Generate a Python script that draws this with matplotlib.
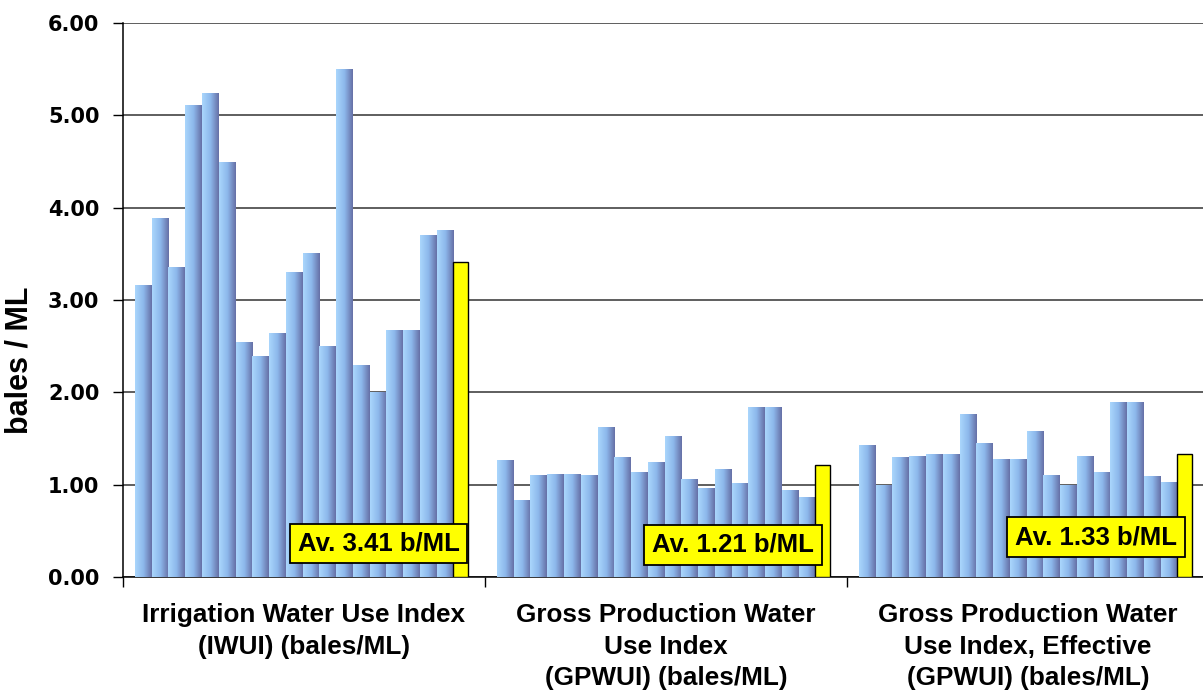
import numpy as np
import matplotlib.pyplot as plt
from matplotlib.colors import LinearSegmentedColormap

# water use index per crop, bales / ML
iwui = [3.16, 3.89, 3.36, 5.11, 5.24, 4.50, 2.55, 2.39, 2.64, 3.30,
        3.51, 2.50, 5.50, 2.30, 2.00, 2.67, 2.67, 3.70, 3.76]
gpwui = [1.27, 0.83, 1.10, 1.12, 1.12, 1.10, 1.62, 1.30, 1.14, 1.25,
         1.53, 1.06, 0.96, 1.17, 1.02, 1.84, 1.84, 0.94, 0.87]
gpwui_eff = [1.43, 1.00, 1.30, 1.31, 1.33, 1.33, 1.77, 1.45, 1.28, 1.28,
             1.58, 1.11, 1.00, 1.31, 1.14, 1.89, 1.89, 1.09, 1.03]
averages = [3.41, 1.21, 1.33]

groups = ["Irrigation Water Use Index\n(IWUI) (bales/ML)",
          "Gross Production Water\nUse Index\n(GPWUI) (bales/ML)",
          "Gross Production Water\nUse Index, Effective\n(GPWUI) (bales/ML)"]
yticks = [0, 1, 2, 3, 4, 5, 6]

font = "Liberation Sans"
blue = LinearSegmentedColormap.from_list("bar", ["#aad6fc", "#8db8ec", "#6670a6"])
grad = np.linspace(0, 1, 64).reshape(1, -1)

fig = plt.figure(figsize=(12.03, 6.95), dpi=100)
ax = fig.add_axes([123/1203, 1-577/695, 1086/1203, 554/695])

slot = 0.0463
start = 0.033
for g, vals in enumerate([iwui, gpwui, gpwui_eff]):
    x = g + start + slot*np.arange(len(vals))
    bars = ax.bar(x, vals, width=slot, align="edge", color="none", lw=0, zorder=3)
    for b in bars:
        x0, y0 = b.get_x(), b.get_y()
        im = ax.imshow(grad, cmap=blue, aspect="auto", zorder=3,
                       extent=[x0, x0 + b.get_width(), y0, y0 + b.get_height()])
        im.set_clip_path(b)
    # average bar
    xa = g + start + slot*len(vals)
    ax.bar(xa, averages[g], width=0.04, align="edge", color="#ffff00",
           edgecolor="black", lw=1, zorder=4)

# average labels
label_pos = [(0.706, 0.363), (1.685, 0.347), (2.688, 0.433)]
for (lx, ly), av in zip(label_pos, averages):
    ax.text(lx, ly, "Av. %.2f b/ML" % av, ha="center", va="center",
            fontsize=18.5, fontweight="bold", family=font, zorder=6,
            bbox=dict(boxstyle="square,pad=0.3", fc="#ffff00", ec="black", lw=1.3))

ax.set_xlim(0, 3)
ax.set_ylim(0, 6)
ax.autoscale(False)

ax.set_yticks(yticks)
ax.set_yticklabels(["%.2f" % t for t in yticks], fontsize=15,
                   fontweight="bold", family="DejaVu Sans")
ax.yaxis.grid(True, color="#333333", lw=1.1, zorder=0)
ax.set_axisbelow(True)

ax.set_xticks([0, 1, 2, 3])
ax.set_xticklabels([])
ax.set_xticks([0.5, 1.5, 2.5], minor=True)
ax.set_xticklabels(groups, minor=True, fontsize=18.8, fontweight="bold",
                   family=font, linespacing=1.38)
ax.tick_params(axis="x", which="minor", length=0, pad=19)
ax.tick_params(axis="both", which="major", length=7, width=1, direction="out", color="black")
ax.tick_params(axis="y", pad=10)

for s in ["top", "right"]:
    ax.spines[s].set_visible(False)
ax.spines["left"].set_color("black")
ax.spines["bottom"].set_color("black")
ax.spines["left"].set_linewidth(1.1)
ax.spines["bottom"].set_linewidth(1.1)

fig.text(20/1203, 1 - 360/695, "bales / ML", rotation=90, ha="center", va="center",
         fontsize=22, fontweight="bold", family=font)

fig.savefig("out.png", dpi=100)
